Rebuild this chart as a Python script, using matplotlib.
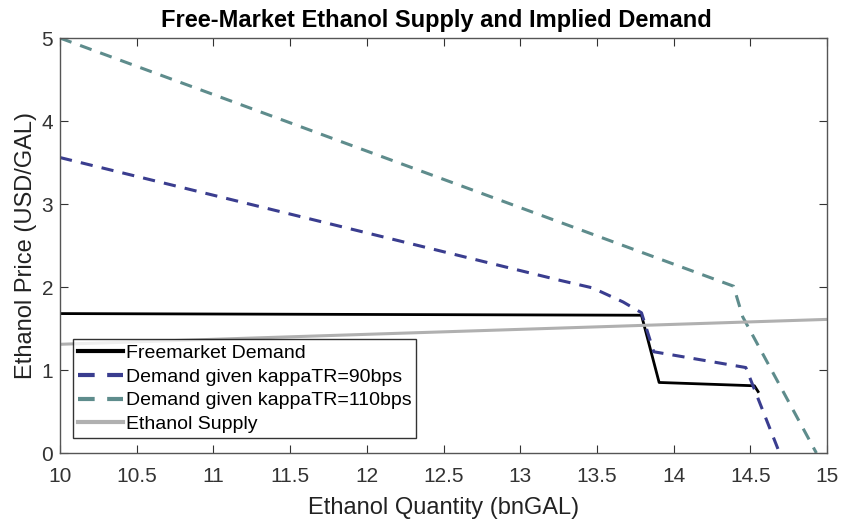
import matplotlib
matplotlib.use("Agg")
import matplotlib.pyplot as plt

free_x = [10.0, 13.79, 13.905, 14.526, 14.55]
free_y = [1.68, 1.66, 0.85, 0.81, 0.74]

k90_x = [10.0, 13.26, 13.47, 13.67, 13.79, 13.87, 14.47, 14.69]
k90_y = [3.56, 2.08, 1.99, 1.82, 1.69, 1.22, 1.03, 0.0]

k110_x = [10.0, 14.39, 14.45, 14.93]
k110_y = [5.0, 2.01, 1.64, 0.0]

sup_x = [10.0, 15.0]
sup_y = [1.31, 1.61]

xticks = [10, 10.5, 11, 11.5, 12, 12.5, 13, 13.5, 14, 14.5, 15]
xticklabels = ["10", "10.5", "11", "11.5", "12", "12.5", "13", "13.5", "14", "14.5", "15"]
yticks = [0, 1, 2, 3, 4, 5]

plt.rcParams['font.family'] = ['Liberation Sans', 'DejaVu Sans']

fig = plt.figure(figsize=(8.44, 5.21), dpi=100)
ax = fig.add_axes([0.0711, 0.1305, 0.9089, 0.7965])

ax.plot(free_x, free_y, color='black', lw=2.0, label='Freemarket Demand')
ax.plot(k90_x, k90_y, color='#3a3d8f', lw=2.2, ls=(0, (4, 3)), label='Demand given kappaTR=90bps')
ax.plot(k110_x, k110_y, color='#5e8c8c', lw=2.2, ls=(0, (4, 3)), label='Demand given kappaTR=110bps')
ax.plot(sup_x, sup_y, color='#b0b0b0', lw=2.2, label='Ethanol Supply')

ax.set_xlim(10, 15)
ax.set_ylim(0, 5)
ax.set_xticks(xticks)
ax.set_xticklabels(xticklabels)
ax.set_yticks(yticks)
ax.tick_params(direction='in', top=True, right=True, labelsize=15, colors='#333333', length=6)
ax.tick_params(axis='x', pad=10)
ax.tick_params(axis='y', pad=5)
for s in ax.spines.values():
    s.set_color('#555555')
    s.set_linewidth(1.0)

ax.set_xlabel('Ethanol Quantity (bnGAL)', fontsize=17, color='#222222', labelpad=8)
ax.set_ylabel('Ethanol Price (USD/GAL)', fontsize=17, color='#222222', labelpad=3)
ax.set_title('Free-Market Ethanol Supply and Implied Demand', fontsize=17, fontweight='bold',
             pad=8, x=0.49)

leg = ax.legend(loc='lower left', bbox_to_anchor=(0.017, 0.036), fontsize=14, frameon=True,
                fancybox=False, edgecolor='black', handlelength=2.3, handletextpad=0.15,
                borderpad=0.25, labelspacing=0.32, borderaxespad=0.0)
leg.get_frame().set_linewidth(1.0)
for h in leg.get_lines():
    h.set_linewidth(3.0)

fig.savefig('out.png', dpi=100)
